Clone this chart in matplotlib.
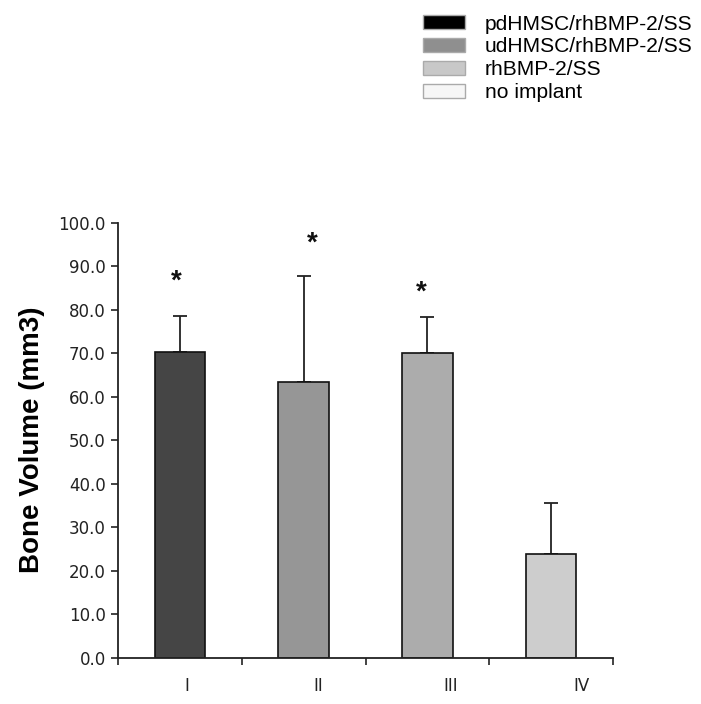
import matplotlib
matplotlib.use("Agg")
import matplotlib.pyplot as plt
from matplotlib.patches import Patch

plt.rcParams['font.family'] = ['Liberation Sans', 'DejaVu Sans']

categories = ["I", "II", "III", "IV"]
values = [70.3, 63.4, 70.0, 23.9]
errors_up = [8.3, 24.4, 8.3, 11.6]
star_y = [88.0, 96.7, 85.5]
bar_colors = ["#454545", "#969696", "#acacac", "#cdcdcd"]
legend_labels = ["pdHMSC/rhBMP-2/SS", "udHMSC/rhBMP-2/SS", "rhBMP-2/SS", "no implant"]
legend_colors = ["#000000", "#8f8f8f", "#c8c8c8", "#f6f6f6"]

fig = plt.figure(figsize=(7.01, 7.04), dpi=100)
ax = fig.add_axes([0.1688, 0.0658, 0.874 - 0.1688, 0.6837 - 0.0658])

x = list(range(len(categories)))
ax.bar(x, values, width=0.41, color=bar_colors, edgecolor="#111111", linewidth=1.2, zorder=2)
ax.errorbar(x, values, yerr=[[0] * 4, errors_up], fmt="none", ecolor="#222222",
            elinewidth=1.3, capsize=5, capthick=1.3, zorder=1)

star_dx = [-0.03, 0.07, -0.05]
for i, sy in enumerate(star_y):
    ax.annotate("*", (i + star_dx[i], sy), xytext=(0, -5), textcoords="offset points",
                ha="center", va="center", fontsize=20, fontweight="bold", color="#111111")

tick_font = {"family": "DejaVu Sans", "size": 12}
ax.set_xlim(-0.5, 3.5)
ax.set_ylim(0, 100)
ax.set_yticks([i * 10 for i in range(11)])
ax.set_yticklabels([f"{i * 10:.1f}" for i in range(11)], fontdict=tick_font)
ax.set_xticks([-0.5, 0.5, 1.5, 2.5, 3.5])
ax.set_xticklabels([])
label_pos = [0.056, 1.116, 2.19, 3.25]
ax.set_xticks(label_pos, minor=True)
ax.set_xticklabels(categories, minor=True, fontdict=tick_font)
ax.tick_params(axis="x", which="minor", length=0, pad=14, labelcolor="#222222")
ax.tick_params(axis="x", which="major", length=5, width=1.2, direction="out", color="#222222")
ax.tick_params(axis="y", length=5, width=1.2, direction="out", pad=4, labelcolor="#222222", color="#222222")

for s in ["top", "right"]:
    ax.spines[s].set_visible(False)
for s in ["left", "bottom"]:
    ax.spines[s].set_linewidth(1.3)
    ax.spines[s].set_color("#222222")

ax.set_ylabel("Bone Volume (mm3)", fontsize=20, fontweight="bold", labelpad=10)

handles = [Patch(facecolor=c, edgecolor="#aaaaaa", linewidth=1.0) for c in legend_colors]
fig.legend(handles, legend_labels, loc="upper left", bbox_to_anchor=(0.582, 1.0),
           frameon=False, fontsize=15.1, handlelength=2.0, handleheight=0.65,
           labelspacing=0.18, handletextpad=0.95, borderaxespad=0.3)

fig.savefig("out.png", dpi=100)
